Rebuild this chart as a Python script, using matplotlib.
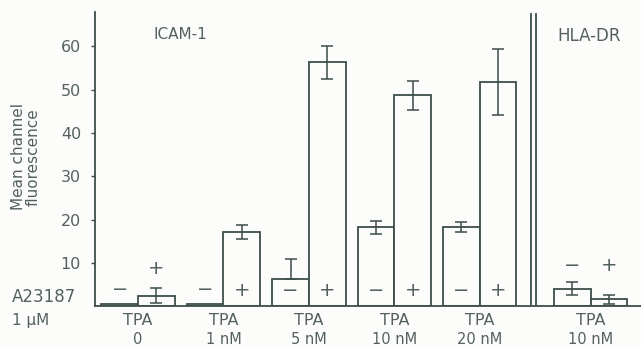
import matplotlib
matplotlib.use("Agg")
import matplotlib.pyplot as plt
import matplotlib.transforms as mtransforms

# valores (fluorescencia media de canal)
grupos = ["0", "1 nM", "5 nM", "10 nM", "20 nM", "10 nM"]
menos_val = [0.5, 0.5, 6.4, 18.3, 18.3, 4.1]
menos_err_inf = [0.0, 0.0, 0.0, 1.5, 1.2, 1.5]
menos_err_sup = [0.0, 0.0, 4.6, 1.5, 1.2, 1.5]
mas_val = [2.5, 17.1, 56.3, 48.7, 51.8, 1.6]
mas_err = [1.8, 1.6, 3.9, 3.4, 7.7, 1.0]
ticks_y = [10, 20, 30, 40, 50, 60]

# disposicion
pos = [0, 1, 2, 3, 4, 5.3]
ancho = 0.43
signo_menos_y = [3.9, 3.9, 3.7, 3.7, 3.7, 9.5]
signo_mas_y = [8.8, 3.7, 3.7, 3.7, 3.7, 9.5]

TINTA = "#3c4d4a"
TEXTO = "#54625f"
FONDO = "#fcfcfa"

fig = plt.figure(figsize=(6.41, 3.47), dpi=100, facecolor=FONDO)
ax = fig.add_axes([0.1482, 0.117, 0.852, 0.848])
ax.set_facecolor(FONDO)

x_menos = [p - ancho / 2 for p in pos]
x_mas = [p + ancho / 2 for p in pos]

ax.bar(x_menos, menos_val, width=ancho, color=FONDO, edgecolor=TINTA, linewidth=1.3, zorder=2)
ax.bar(x_mas, mas_val, width=ancho, color=FONDO, edgecolor=TINTA, linewidth=1.3, zorder=2)

con_err = [i for i in range(len(pos)) if menos_err_sup[i] > 0]
ax.errorbar([x_menos[i] for i in con_err], [menos_val[i] for i in con_err],
            yerr=[[menos_err_inf[i] for i in con_err], [menos_err_sup[i] for i in con_err]],
            fmt="none", ecolor=TINTA, elinewidth=1.1, capsize=4, capthick=1.1, zorder=3)
ax.errorbar(x_mas, mas_val, yerr=mas_err, fmt="none", ecolor=TINTA,
            elinewidth=1.1, capsize=4, capthick=1.1, zorder=3)

# signos - / + de A23187
for i in range(len(pos)):
    ax.text(x_menos[i], signo_menos_y[i], "\u2212", ha="center", va="center",
            fontsize=14, color=TEXTO, zorder=4)
    ax.text(x_mas[i], signo_mas_y[i], "+", ha="center", va="center",
            fontsize=14, color=TEXTO, zorder=4)

# doble linea separando paneles
ymax = 67.9
for xs in (4.6, 4.665):
    ax.plot([xs, xs], [0, ymax - 0.5], color=TINTA, lw=1.3, zorder=2)

ax.text(0.49, 62.8, "ICAM-1", ha="center", va="center", fontsize=11, color=TEXTO)
ax.text(5.28, 62.5, "HLA-DR", ha="center", va="center", fontsize=12, color=TEXTO)

ax.set_xlim(-0.504, 5.89)
ax.set_ylim(0, ymax)
ax.set_xticks([])
ax.set_yticks(ticks_y)
ax.set_yticklabels([str(t) for t in ticks_y], fontsize=11.5, color=TEXTO)
ax.tick_params(axis="y", length=3, width=1, color=TINTA, pad=7)
for s in ("top", "right"):
    ax.spines[s].set_visible(False)
for s in ("left", "bottom"):
    ax.spines[s].set_color(TINTA)
    ax.spines[s].set_linewidth(1.3)

# etiquetas inferiores
trans = mtransforms.blended_transform_factory(ax.transData, fig.transFigure)
for p, g in zip(pos, grupos):
    ax.text(p, 0.075, "TPA", ha="center", va="center", fontsize=11.5, color=TEXTO,
            transform=trans, clip_on=False)
    ax.text(p, 0.0, g, ha="center", va="bottom", fontsize=10.5, color=TEXTO,
            transform=trans, clip_on=False)

fig.text(12 / 641, 0.144, "A23187", ha="left", va="center", fontsize=12, color=TEXTO)
fig.text(12 / 641, 0.075, "1 \u03bcM", ha="left", va="center", fontsize=11, color=TEXTO)
fig.text(26 / 641, 0.548, "Mean channel\nfluorescence", rotation=90, ha="center",
         va="center", fontsize=11, color=TEXTO, linespacing=1.0)

fig.savefig("out.png", dpi=100, facecolor=FONDO)
